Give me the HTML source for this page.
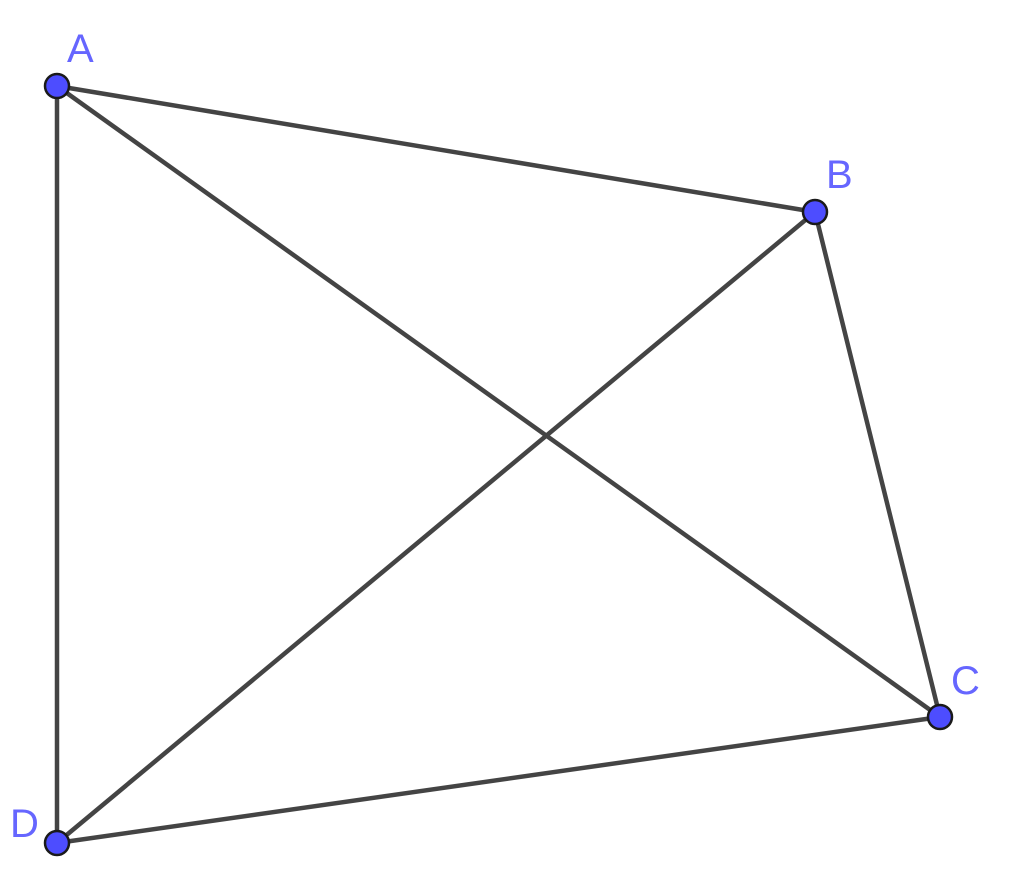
<!DOCTYPE html>
<html><head><style>body{margin:0;background:#fff}svg{display:block}</style></head><body>
<svg width="1024" height="882" xmlns="http://www.w3.org/2000/svg">
<g stroke="#444" stroke-width="4.5" stroke-linecap="round">
<line x1="57" y1="86" x2="815" y2="212"/>
<line x1="815" y1="212" x2="940" y2="717"/>
<line x1="940" y1="717" x2="57" y2="843"/>
<line x1="57" y1="843" x2="57" y2="86"/>
<line x1="57" y1="86" x2="940" y2="717"/>
<line x1="815" y1="212" x2="57" y2="843"/>
</g>
<g fill="#4d4dff" stroke="#1a1a1a" stroke-width="2.5">
<circle cx="57" cy="86" r="12"/>
<circle cx="815" cy="212" r="12"/>
<circle cx="940" cy="717" r="12"/>
<circle cx="57" cy="843" r="12"/>
</g>
<g fill="#6666ff" font-family="Liberation Sans, sans-serif" font-size="40">
<text x="67" y="62">A</text>
<text x="826" y="188">B</text>
<text x="951" y="694">C</text>
<text x="10" y="837">D</text>
</g>
</svg>
</body></html>
